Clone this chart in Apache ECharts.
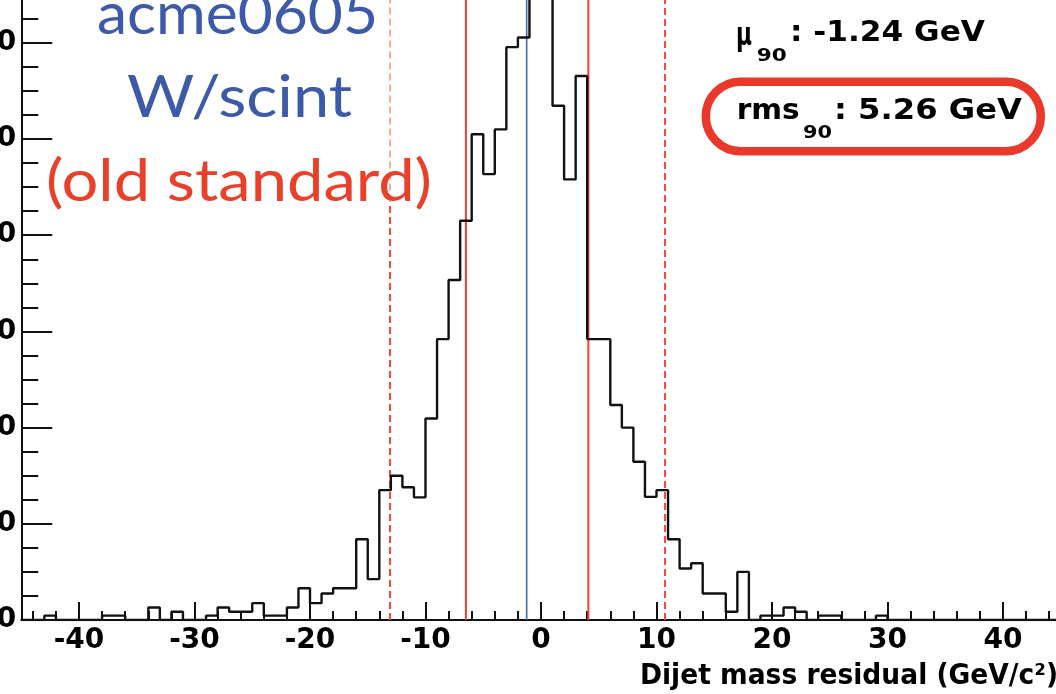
<!DOCTYPE html>
<html>
<head>
<meta charset="utf-8">
<script src="https://cdn.jsdelivr.net/npm/echarts@6/dist/echarts.min.js"></script>
<style>
html, body { margin: 0; padding: 0; background: #fff; }
#chart { width: 1056px; height: 694px; }
</style>
</head>
<body>
<div id="chart"></div>
<script>
// dijet mass residual, 1 GeV bins starting at -45
var binStart = -45;
var binWidth = 1;
var counts = [
    0, 0, 0.9, 0, 0, 0, 0, 0.9, 0.9, 0,          // -45 .. -36
    0, 2.6, 0, 1.7, 0, 0, 0.9, 2.6, 1.7, 1.7,     // -35 .. -26
    3.5, 0.9, 0.9, 2.6, 6.6, 3.5, 5.5, 6.6, 6.6, 16.8, // -25 .. -16
    8.5, 27.0, 30.0, 27.6, 25.5, 41.9, 58.4, 70.7, 83.0, 101.0, // -15 .. -6
    92.7, 102.0, 119.1, 121.1, 150, 135, 106.9, 91.6, 113.1, 58.4, // -5 .. 4
    58.4, 44.7, 40.0, 32.9, 25.6, 27.0, 16.8, 10.7, 11.8, 5.5,   // 5 .. 14
    5.5, 1.7, 10.0, 0, 0.9, 0.9, 2.6, 1.7, 0, 0.9,  // 15 .. 24
    0.9, 0, 0, 0, 0.9, 0, 0, 0, 0, 0,               // 25 .. 34
    0, 0, 0, 0, 0, 0, 0, 0, 0, 0                    // 35 .. 44
];
var xMajorTicks = [-40, -30, -20, -10, 0, 10, 20, 30, 40];
var xMinorTicks = [-44, -42, -38, -36, -34, -32, -28, -26, -24, -22, -18, -16, -14, -12,
    -8, -6, -4, -2, 2, 4, 6, 8, 12, 14, 16, 18, 22, 24, 26, 28, 32, 34, 36, 38, 42, 44];
var mu90 = -1.24;
var rmsLines = [-6.5, 4.1];
var tailLines = [-13.07, 10.74];

var histData = [];
for (var i = 0; i < counts.length; i++) {
    histData.push([binStart + i * binWidth, counts[i]]);
}
histData.push([binStart + counts.length * binWidth, counts[counts.length - 1]]);

function vline(x, y0, y1, color, type, width) {
    return {
        type: 'line', data: [[x, y0], [x, y1]], symbol: 'none', silent: true,
        lineStyle: { color: color, width: width, type: type }, z: 3
    };
}

// stretch text to the width it has in the picture
var ctx = document.createElement('canvas').getContext('2d');
function fitText(str, font, x, y, w, color) {
    ctx.font = font;
    var sx = w / ctx.measureText(str).width;
    return {
        type: 'text', x: x, y: y, scaleX: sx, z: 10,
        style: {
            text: str, font: font, fill: color,
            textAlign: 'left', textVerticalAlign: 'middle', align: 'left', verticalAlign: 'middle'
        }
    };
}

var blue = '#3d5aa8';
var red = '#e9402a';
var bold = 'bold 29px "DejaVu Sans"';
var sub = 'bold 18px "DejaVu Sans"';
var gill = '58px Lato';

var tickStyle = { color: '#111', width: 2 };
var option = {
    animation: false,
    backgroundColor: '#fff',
    grid: {
        left: 21.25, right: -4.75, top: -53.4, bottom: 74,
        containLabel: false, outerBoundsMode: 'none'
    },
    xAxis: [{
        type: 'value', min: -45, max: 45,
        axisLine: { onZero: false, lineStyle: { color: '#111', width: 2 } },
        axisTick: { inside: true, length: 18, lineStyle: tickStyle, customValues: xMajorTicks },
        axisLabel: {
            customValues: xMajorTicks, color: '#000', margin: 7,
            fontFamily: 'DejaVu Sans', fontWeight: 'bold', fontSize: 28
        },
        splitLine: { show: false }
    }, {
        type: 'value', min: -45, max: 45, position: 'bottom',
        axisLine: { show: false, onZero: false },
        axisTick: { inside: true, length: 9, lineStyle: tickStyle, customValues: xMinorTicks },
        axisLabel: { show: false },
        splitLine: { show: false }
    }],
    yAxis: {
        type: 'value', min: 0, max: 140, interval: 20,
        axisLine: { show: true, onZero: false, lineStyle: { color: '#111', width: 2 } },
        axisTick: { show: true, inside: true, length: 31, lineStyle: tickStyle },
        minorTick: { show: true, splitNumber: 4, length: 17, lineStyle: tickStyle },
        axisLabel: { color: '#000', margin: 5, fontFamily: 'DejaVu Sans', fontWeight: 'bold', fontSize: 28 },
        splitLine: { show: false }
    },
    series: [
        vline(tailLines[0], 0, 87, '#ef4a3c', [7, 4], 2),
        vline(tailLines[0], 87, 140, '#f7ae98', [7, 4], 2),
        vline(tailLines[1], 0, 140, '#ef4a3c', [7, 4], 2),
        vline(rmsLines[0], 0, 140, '#ef4136', 'solid', 2),
        vline(rmsLines[1], 0, 140, '#ef4136', 'solid', 2),
        vline(mu90, 0, 140, '#4466bb', 'solid', 1.6),
        {
            type: 'line', step: 'end', data: histData, symbol: 'none', silent: true,
            lineStyle: { color: '#111', width: 2.4 }, z: 5
        }
    ],
    graphic: [
        fitText('acme0605', gill, 97, 15, 281, blue),
        fitText('W/scint', gill, 127, 98.5, 225, blue),
        fitText('(old standard)', gill, 46, 182, 386, red),
        fitText('\u03bc', 'bold 31px "DejaVu Sans"', 736, 37, 16, '#000'),
        fitText('90', sub, 756.7, 56.7, 30, '#000'),
        fitText(': -1.24 GeV', bold, 790, 33.3, 195, '#000'),
        fitText('rms', bold, 736.7, 111, 63, '#000'),
        fitText('90', sub, 803, 133.3, 29, '#000'),
        fitText(': 5.26 GeV', bold, 834, 111, 188, '#000'),
        {
            type: 'rect', z: 10,
            shape: { x: 705.8, y: 81.7, width: 335, height: 69.5, r: 34.7 },
            style: { fill: 'none', stroke: '#e8392b', lineWidth: 8.5 }
        },
        fitText('Dijet mass residual (GeV/c\u00b2)', 'bold 28px "DejaVu Sans"', 640, 677, 418, '#000')
    ]
};

var chart = echarts.init(document.getElementById('chart'));
chart.setOption(option);
</script>
</body>
</html>
